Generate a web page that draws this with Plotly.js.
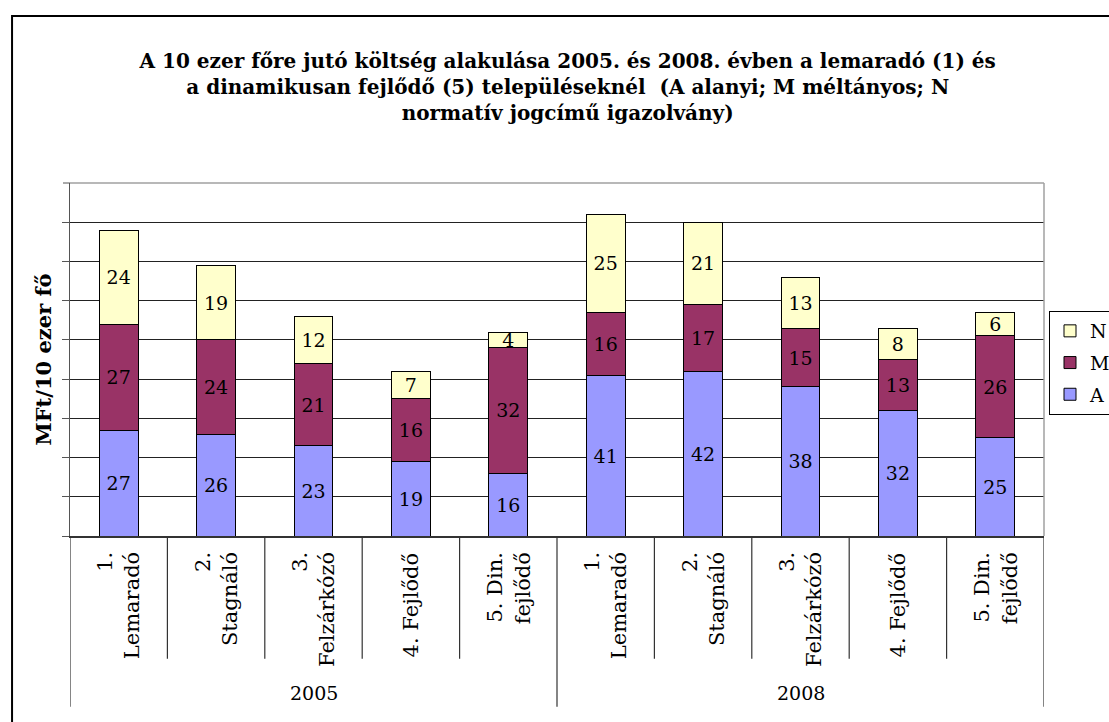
<!DOCTYPE html>
<html>
<head>
<meta charset="utf-8">
<script src="https://cdn.plot.ly/plotly-3.0.1.min.js"></script>
<style>html,body{margin:0;padding:0;background:#fff;}#chart{width:1109px;height:722px;}</style>
</head>
<body>
<div id="chart"></div>
<script>
const years = ['2005', '2008'];
const categories = ['1.<br>Lemaradó', '2.<br>Stagnáló', '3.<br>Felzárkózó', '4. Fejlődő', '5. Din.<br>fejlődő'];
const seriesNames = ['A', 'M', 'N'];
const valuesA = [27, 26, 23, 19, 16, 41, 42, 38, 32, 25];
const valuesM = [27, 24, 21, 16, 32, 16, 17, 15, 13, 26];
const valuesN = [24, 19, 12, 7, 4, 25, 21, 13, 8, 6];
const colors = {A: '#9999FF', M: '#993366', N: '#FFFFCC'};
const legendRanks = {N: 1, M: 2, A: 3};

const xLabels = [];
const xYears = [];
years.forEach(y => categories.forEach(c => { xLabels.push(c); xYears.push(y); }));
const xIdx = xLabels.map((_, i) => i);

const serif = 'DejaVu Serif, serif';
const series = {A: valuesA, M: valuesM, N: valuesN};

const traces = seriesNames.map(name => ({
  type: 'bar',
  name: name,
  legendgroup: name,
  legendrank: legendRanks[name],
  x: xIdx,
  y: series[name],
  text: series[name].map(String),
  textposition: 'inside',
  insidetextanchor: 'middle',
  textangle: 0,
  constraintext: 'none',
  textfont: {family: serif, size: 19, color: '#000'},
  marker: {color: colors[name], line: {color: '#000', width: 1}},
  hoverinfo: 'x+y+name'
}));

const annotations = [];
xLabels.forEach((lab, i) => {
  annotations.push({
    xref: 'x', yref: 'paper', x: i, y: 0,
    text: lab, textangle: -90, showarrow: false,
    xanchor: 'center', yanchor: 'top', yshift: -14, align: 'right',
    font: {family: serif, size: 21, color: '#000'}
  });
});
years.forEach((yr, g) => {
  annotations.push({
    xref: 'x', yref: 'paper', x: g * categories.length + (categories.length - 1) / 2, y: -0.4448,
    text: yr, showarrow: false, xanchor: 'center', yanchor: 'middle',
    font: {family: serif, size: 19, color: '#000'}
  });
});

const shapes = [];
// outer chart frame
shapes.push({type: 'rect', xref: 'paper', yref: 'paper', x0: -0.0595, x1: 1.3, y0: -1, y1: 1.473,
  line: {color: '#000', width: 2}, fillcolor: 'rgba(0,0,0,0)'});
// plot area border top and right (gray)
shapes.push({type: 'line', xref: 'paper', yref: 'paper', x0: 0, x1: 1, y0: 1, y1: 1, line: {color: '#A0A0A0', width: 1.5}});
shapes.push({type: 'line', xref: 'paper', yref: 'paper', x0: 1, x1: 1, y0: 0, y1: 1, line: {color: '#A0A0A0', width: 1.5}});
// tick at the top of y axis
shapes.push({type: 'line', xref: 'paper', yref: 'paper', x0: -7/974, x1: 0, y0: 1, y1: 1, line: {color: '#555', width: 1}});
// category dividers
for (let i = 0; i <= xLabels.length; i++) {
  const isGroup = (i % categories.length === 0);
  shapes.push({type: 'line', xref: 'x', yref: 'paper', x0: i - 0.5, x1: i - 0.5,
    y0: 0, y1: isGroup ? -0.484 : -0.348, line: {color: '#333', width: 1.2}});
}

const layout = {
  width: 1109, height: 722,
  paper_bgcolor: '#fff', plot_bgcolor: '#fff',
  margin: {l: 70, r: 65, t: 183, b: 186},
  barmode: 'stack', bargap: 0.6,
  uniformtext: {mode: 'show', minsize: 19},
  title: {
    text: '<b>A 10 ezer főre jutó költség alakulása 2005. és 2008. évben a lemaradó (1) és<br>a dinamikusan fejlődő (5) településeknél  (A alanyi; M méltányos; N<br>normatív jogcímű igazolvány)</b>',
    font: {family: serif, size: 20, color: '#000'},
    x: 0.511, xanchor: 'center', xref: 'paper',
    yref: 'container', y: 1 - 68/722, yanchor: 'top'
  },
  xaxis: {
    range: [-0.5, xLabels.length - 0.5],
    showticklabels: false, ticks: '', showgrid: false, zeroline: false,
    showline: true, linecolor: '#333', linewidth: 1.5, fixedrange: true
  },
  yaxis: {
    range: [0, 90], tickvals: [0, 10, 20, 30, 40, 50, 60, 70, 80],
    showticklabels: false, ticks: 'outside', ticklen: 7, tickcolor: '#555',
    showgrid: true, gridcolor: '#222', gridwidth: 1, zeroline: false,
    showline: true, linecolor: '#555', linewidth: 1.5,
    title: {text: '<b>MFt/10 ezer fő</b>', font: {family: serif, size: 21, color: '#000'}, standoff: 4},
    fixedrange: true
  },
  legend: {
    xref: 'container', yref: 'container',
    x: 1049/1109, y: 1 - 311/722, xanchor: 'left', yanchor: 'top',
    bgcolor: '#fff', bordercolor: '#000', borderwidth: 1,
    font: {family: serif, size: 19, color: '#000'},
    traceorder: 'grouped', tracegroupgap: 4
  },
  annotations: annotations,
  shapes: shapes,
  showlegend: true
};

Plotly.newPlot('chart', traces, layout, {displayModeBar: false, staticPlot: true});
</script>
</body>
</html>
